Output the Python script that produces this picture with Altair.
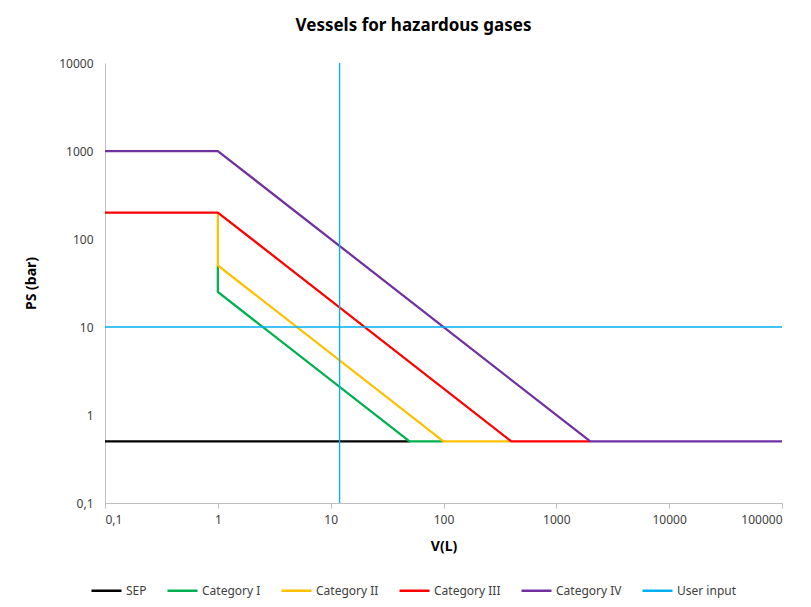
import altair as alt
import pandas as pd

series_names = ["SEP", "Category I", "Category II", "Category III", "Category IV", "User input"]
series_colors = ["#000000", "#00B050", "#FFC000", "#FF0000", "#7030A0", "#00B0F0"]

sep_v = [0.1, 50]
sep_p = [0.5, 0.5]
cat1_v = [1, 1, 50, 100]
cat1_p = [50, 25, 0.5, 0.5]
cat2_v = [1, 1, 100, 400]
cat2_p = [200, 50, 0.5, 0.5]
cat3_v = [0.1, 1, 400, 2000]
cat3_p = [200, 200, 0.5, 0.5]
cat4_v = [0.1, 1, 2000, 100000]
cat4_p = [1000, 1000, 0.5, 0.5]
user_v_line_v = [12, 12]
user_v_line_p = [0.1, 10000]
user_h_line_v = [0.1, 100000]
user_h_line_p = [10, 10]

tick_values = [0.1, 1, 10, 100, 1000, 10000, 100000]

rows = []
def add(name, seg, vs, ps):
    for i, (v, p) in enumerate(zip(vs, ps)):
        rows.append({"series": name, "seg": seg, "idx": i, "V": v, "PS": p})

add("SEP", "sep", sep_v, sep_p)
add("Category I", "c1", cat1_v, cat1_p)
add("Category II", "c2", cat2_v, cat2_p)
add("Category III", "c3", cat3_v, cat3_p)
add("Category IV", "c4", cat4_v, cat4_p)
add("User input", "u1", user_v_line_v, user_v_line_p)
add("User input", "u2", user_h_line_v, user_h_line_p)
df = pd.DataFrame(rows)

label_expr = "replace(toString(datum.value), '.', ',')"
font = "Noto Sans"

color = alt.Color(
    "series:N",
    scale=alt.Scale(domain=series_names, range=series_colors),
    legend=alt.Legend(
        title=None, orient="none", direction="horizontal",
        legendX=-15, legendY=511, symbolType="stroke", symbolSize=900,
        symbolStrokeWidth=2.5, labelFontSize=12, labelFont=font,
        labelColor="#404040", columnPadding=15, labelOffset=3,
    ),
)

base = alt.Chart(df)
lines = base.transform_filter(alt.datum.series != "User input").mark_line(strokeWidth=2.25, clip=True).encode(
    x=alt.X("V:Q", scale=alt.Scale(type="log", domain=[0.1, 100000], nice=False),
            axis=alt.Axis(title="V(L)", values=tick_values, labelExpr=label_expr, grid=False,
                          domainColor="#BFBFBF", tickColor="#BFBFBF", tickSize=5,
                          labelFontSize=12, labelFont=font, labelColor="#404040", labelPadding=6,
                          titleFontSize=14, titleFont=font, titleFontWeight="bold",
                          titleColor="#000000", titlePadding=14)),
    y=alt.Y("PS:Q", scale=alt.Scale(type="log", domain=[0.1, 10000], nice=False),
            axis=alt.Axis(title="PS (bar)", values=[0.1, 1, 10, 100, 1000, 10000], labelExpr=label_expr,
                          grid=False, ticks=False, domainColor="#BFBFBF",
                          labelFontSize=12, labelFont=font, labelColor="#404040", labelPadding=12,
                          titleFontSize=14, titleFont=font, titleFontWeight="bold",
                          titleColor="#000000", titlePadding=20)),
    color=color,
    detail="seg:N",
    order="idx:Q",
)
user = base.transform_filter(alt.datum.series == "User input").mark_line(strokeWidth=1.3, clip=True).encode(
    x="V:Q", y="PS:Q", color=color, detail="seg:N", order="idx:Q",
)

chart = (lines + user).properties(
    width=677, height=440,
    title=alt.TitleParams("Vessels for hazardous gases", fontSize=17, font=font, fontWeight="bold",
                          color="#000000", offset=22, dx=-30),
    autosize=alt.AutoSizeParams(type="none"),
    padding={"left": 97, "top": 55, "right": 20, "bottom": 95},
).configure_view(stroke=None)

chart.save("out.html", embed_options={"renderer": "svg", "actions": False})
